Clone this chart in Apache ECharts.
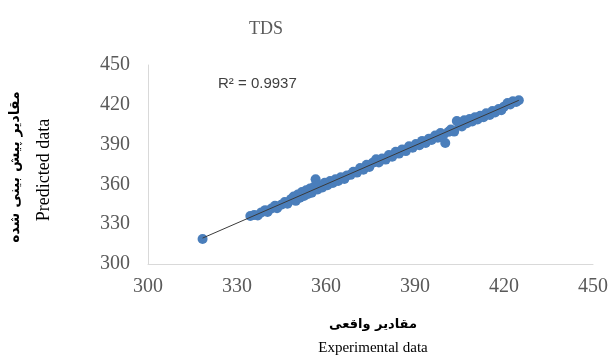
<!DOCTYPE html>
<html>
<head>
<meta charset="utf-8">
<script src="https://cdn.jsdelivr.net/npm/echarts@6/dist/echarts.min.js"></script>
<style>
  html, body { margin: 0; padding: 0; background: #fff; }
  #chart { width: 611px; height: 358px; }
</style>
</head>
<body>
<div id="chart"></div>
<script>
// Experimental (x) vs predicted (y) TDS values
const experimental = [
  318.4, 334.5, 335.8, 337.0, 338.2, 339.5, 340.3, 341.6, 342.8, 343.5, 344.9, 346.1,
  347.0, 348.2, 349.1, 349.8, 350.5, 351.2, 351.9, 352.6, 353.3, 353.9, 354.6, 355.2,
  355.9, 356.5, 357.2, 357.9, 358.8, 359.6, 360.5, 361.4, 362.3, 363.2, 364.1, 365.0,
  366.2, 367.1, 368.3, 369.2, 370.4, 371.5, 372.6, 373.7, 374.6, 375.8, 376.9, 377.8,
  378.9, 380.1, 381.2, 382.3, 383.5, 384.6, 385.7, 386.9, 388.0, 389.2, 390.3, 391.5,
  392.4, 393.6, 394.7, 395.6, 396.8, 397.7, 398.6, 399.5, 400.2, 401.3, 402.1, 403.2,
  404.1, 404.9, 405.8, 406.6, 407.5, 408.4, 409.3, 410.2, 411.1, 412.0, 413.1, 414.0,
  415.2, 416.1, 417.0, 418.2, 419.1, 420.0, 421.2, 422.1, 423.0, 424.1, 425.0
]
const predicted = [
  318.8, 336.2, 337.0, 336.5, 338.9, 340.6, 339.2, 341.8, 343.9, 342.1, 344.6, 346.8,
  345.4, 348.9, 350.8, 347.6, 352.4, 349.9, 354.2, 351.3, 355.6, 352.8, 356.9, 353.7,
  358.1, 363.8, 356.2, 359.4, 357.6, 361.2, 359.3, 362.6, 361.0, 363.9, 362.5, 365.3,
  364.1, 366.8, 367.2, 369.6, 368.9, 372.3, 371.0, 374.8, 373.1, 376.4, 378.9, 376.6,
  379.5, 378.7, 382.1, 380.8, 384.6, 383.2, 386.4, 385.1, 388.7, 387.6, 390.4, 389.6,
  392.8, 391.3, 394.5, 393.4, 396.9, 395.2, 398.8, 397.1, 391.2, 399.6, 401.4, 399.8,
  407.8, 405.2, 403.6, 408.4, 406.1, 409.3, 407.4, 410.6, 409.0, 411.8, 410.7, 413.6,
  412.4, 415.3, 414.2, 416.8, 415.9, 418.6, 421.4, 420.3, 422.6, 422.1, 423.4
]
const axisTicks = [300, 330, 360, 390, 420, 450]
const titleText = 'TDS'
const r2Text = 'R² = 0.9937'
const yNameFa = 'مقادیر پیش بینی شده'
const yNameEn = 'Predicted data'
const xNameFa = 'مقادیر واقعی'
const xNameEn = 'Experimental data'

const points = experimental.map((x, i) => [x, predicted[i]])

// least squares trendline over the data range
const n = points.length
const mx = experimental.reduce((s, v) => s + v, 0) / n
const my = predicted.reduce((s, v) => s + v, 0) / n
let sxy = 0, sxx = 0
points.forEach(([x, y]) => { sxy += (x - mx) * (y - my); sxx += (x - mx) * (x - mx) })
const slope = sxy / sxx
const icpt = my - slope * mx
const xMin = Math.min(...experimental)
const xMax = Math.max(...experimental)
const trend = [[xMin, icpt + slope * xMin], [xMax, icpt + slope * xMax]]

const serif = '"Liberation Serif", "Times New Roman", serif'
const arabic = '"DejaVu Sans", sans-serif'
const gray = '#595959'

const chart = echarts.init(document.getElementById('chart'), null, { renderer: 'canvas' })

const axisBase = {
  type: 'value',
  min: axisTicks[0],
  max: axisTicks[axisTicks.length - 1],
  interval: axisTicks[1] - axisTicks[0],
  axisLine: { show: true, lineStyle: { color: '#d9d9d9', width: 1 } },
  axisTick: { show: false },
  splitLine: { show: false },
  axisLabel: { color: gray, fontFamily: serif, fontSize: 20 },
}

chart.setOption({
  animation: false,
  grid: { left: 148, right: 14, top: 65, bottom: 94 },
  xAxis: { ...axisBase, axisLabel: { ...axisBase.axisLabel, margin: 13 } },
  yAxis: { ...axisBase, axisLabel: { ...axisBase.axisLabel, margin: 18 } },
  graphic: [
    { type: 'text', x: 266, y: 29,
      style: { text: titleText, fill: gray, font: '18px ' + serif, align: 'center', verticalAlign: 'middle' } },
    { type: 'text', x: 218, y: 84,
      style: { text: r2Text, fill: '#404040', font: '15px "Liberation Sans", Arial, sans-serif', verticalAlign: 'middle' } },
    { type: 'text', x: 15, y: 167, rotation: Math.PI / 2,
      style: { text: yNameFa, fill: '#000', font: 'bold 14px ' + arabic, align: 'center', verticalAlign: 'middle' } },
    { type: 'text', x: 44, y: 170, rotation: Math.PI / 2,
      style: { text: yNameEn, fill: '#000', font: '18px ' + serif, align: 'center', verticalAlign: 'middle' } },
    { type: 'text', x: 373, y: 325,
      style: { text: xNameFa, fill: '#000', font: 'bold 13px ' + arabic, align: 'center', verticalAlign: 'middle' } },
    { type: 'text', x: 373, y: 348,
      style: { text: xNameEn, fill: '#000', font: '15px ' + serif, align: 'center', verticalAlign: 'middle' } },
  ],
  series: [
    {
      type: 'scatter',
      data: points,
      symbolSize: 10,
      itemStyle: { color: '#4a7ebb', opacity: 1 },
      z: 2,
    },
    {
      type: 'line',
      data: trend,
      symbol: 'none',
      lineStyle: { color: '#3a3a3a', width: 1 },
      z: 3,
    },
  ],
})
</script>
</body>
</html>
